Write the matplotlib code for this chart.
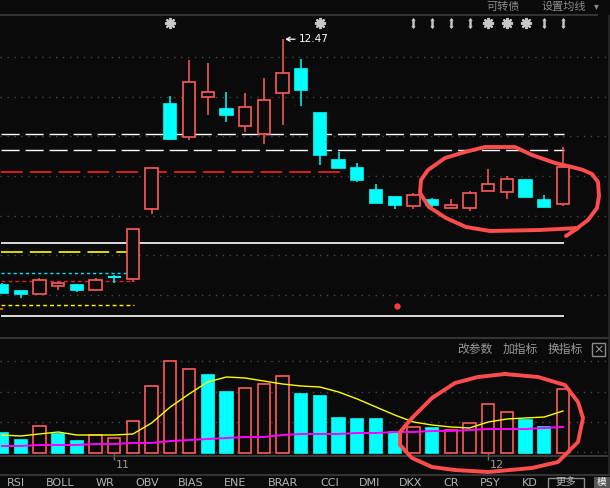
import numpy as np
import matplotlib
matplotlib.use('Agg')
import matplotlib.pyplot as plt
from matplotlib.patches import Rectangle

# daily candles (price), 31 sessions
opens  = [9.40, 9.32, 9.29, 9.39, 9.40, 9.34, 9.50, 9.47, 10.35, 11.66, 11.25, 11.75, 11.60, 11.39, 11.29, 11.80,
          12.10, 11.55, 10.96, 10.86, 10.59, 10.50, 10.39, 10.46, 10.36, 10.36, 10.57, 10.56, 10.71, 10.46, 10.41]
highs  = [9.42, 9.32, 9.49, 9.44, 9.41, 9.49, 9.52, 10.10, 10.86, 11.76, 12.21, 12.17, 11.81, 11.80, 11.99, 12.47,
          12.22, 11.55, 11.06, 10.92, 10.66, 10.50, 10.55, 10.49, 10.47, 10.57, 10.85, 10.76, 10.71, 10.52, 11.12]
lows   = [9.30, 9.24, 9.29, 9.34, 9.31, 9.32, 9.42, 9.44, 10.29, 11.21, 11.21, 11.52, 11.44, 11.31, 11.16, 11.40,
          11.64, 10.90, 10.86, 10.69, 10.42, 10.35, 10.35, 10.37, 10.36, 10.32, 10.57, 10.47, 10.50, 10.37, 10.39]
closes = [9.30, 9.29, 9.46, 9.42, 9.34, 9.46, 9.50, 10.10, 10.86, 11.22, 11.94, 11.81, 11.52, 11.62, 11.71, 12.05,
          11.84, 11.02, 10.86, 10.71, 10.42, 10.40, 10.52, 10.40, 10.40, 10.55, 10.66, 10.72, 10.50, 10.37, 10.87]

# volume (10k lots), colour flag vs previous close, and two moving averages
vols   = [2.0, 1.3, 2.7, 1.9, 1.2, 1.8, 1.5, 3.2, 6.7, 9.2, 8.4, 7.8, 6.1, 6.5, 6.9, 7.7,
          5.9, 5.7, 3.5, 3.4, 3.4, 2.1, 2.6, 2.5, 2.3, 3.0, 4.9, 4.1, 3.3, 2.6, 6.4]
vol_up = [0, 0, 1, 0, 0, 1, 1, 1, 1, 1, 1, 0, 0, 1, 1, 1,
          0, 0, 0, 0, 0, 0, 1, 0, 1, 1, 1, 1, 0, 0, 1]
vol_ma5 = [1.8, 1.7, 1.9, 2.1, 1.8, 1.8, 1.8, 1.9, 3.0, 4.6, 5.9, 7.1, 7.6, 7.5, 7.2, 6.9,
           6.7, 6.6, 6.1, 5.4, 4.6, 3.8, 3.1, 2.8, 2.6, 2.5, 3.1, 3.4, 3.5, 3.6, 4.2]
vol_ma_long = [0.7, 0.7, 0.8, 0.8, 0.8, 0.9, 0.9, 1.0, 1.0, 1.2, 1.3, 1.4, 1.5, 1.6, 1.6, 1.8,
               1.9, 1.9, 1.9, 2.0, 2.0, 2.1, 2.1, 2.2, 2.2, 2.3, 2.4, 2.4, 2.4, 2.5, 2.6]

# horizontal price levels
level_prices = [11.285, 11.085, 10.81, 9.9225, 9.81, 9.5475, 9.4475, 9.1475, 9.01]
level_ends   = [30.05, 30.05, 18.07, 30.05, 7.06, 7.06, 7.06, 7.06, 30.05]

star_days  = [9, 17, 26, 27, 28]
arrow_days = [22, 23, 24, 25, 29, 30]
month_days = [6, 26]
month_labels = ['11', '12']
high_label = '12.47'

tabs = ['RSI', 'BOLL', 'WR', 'OBV', 'BIAS', 'ENE', 'BRAR', 'CCI', 'DMI', 'DKX', 'CR', 'PSY', 'KD']

BG = '#0a0a0a'
RED = '#ff5a5a'
CYAN = '#00ffff'
GRID = '#4a4a4a'
CJK = ['Noto Sans CJK SC', 'DejaVu Sans']

W, H = 610, 488
fig = plt.figure(figsize=(W / 100, H / 100), dpi=100, facecolor=BG)


def box(x0, y0, x1, y1):
    return [x0 / W, 1 - y1 / H, (x1 - x0) / W, (y1 - y0) / H]


def px2i(px):
    return (px - 2) / 18.7


idx = np.arange(len(closes))

# ---- price panel
ax = fig.add_axes(box(0, 15, 608, 337))
ax.set_xlim(px2i(0), px2i(608))
ax.set_ylim(8.7475, 12.7725)
ax.axis('off')

for g in [12.2475, 11.7475, 11.26, 10.76, 10.26, 9.7725, 9.2725]:
    ax.axhline(g, color=GRID, lw=1, ls=(0, (1, 4)), zorder=0)

long_dash = (0, (13, 4.3))
level_styles = [('white', long_dash, 1.0), ('white', long_dash, 1.0), ('#ff2020', long_dash, 1.2),
                ('white', '-', 1.2), ('#ffff00', long_dash, 1.2), ('#00e5ff', (0, (2.2, 2.2)), 1.0),
                ('#e02020', (0, (2.8, 2.2)), 1.0), ('#ffff00', (0, (2.8, 2.2)), 1.0), ('white', '-', 1.2)]
for p, end, (c, ls, lw) in zip(level_prices, level_ends, level_styles):
    ax.hlines(p, px2i(1), end, colors=c, linestyles=ls, lw=lw, zorder=1)
ax.hlines(9.095, px2i(0), px2i(3), colors='#ff8000', lw=1.2)

for i, o, h, l, c in zip(idx, opens, highs, lows, closes):
    up = c > o
    col = RED if up else CYAN
    ax.vlines(i, l, h, colors=col, lw=1.1, zorder=2)
    ax.bar(i, abs(c - o), 0.66, min(o, c), facecolor=BG if up else CYAN,
           edgecolor=col, lw=1.2, zorder=3)
    if o == c:
        ax.hlines(o, i - 0.35, i + 0.35, colors=col, lw=1.4, zorder=3)

ax.plot(star_days, [12.67] * len(star_days), ls='none', marker=(8, 2, 0), ms=8, mew=1.4, color='#c8c8c8')
ax.plot(star_days, [12.67] * len(star_days), ls='none', marker='s', ms=4, color='#c8c8c8')
darrow = [(0, 1), (0.4, 0.5), (0.22, 0.5), (0.22, -0.5), (0.4, -0.5), (0, -1),
          (-0.4, -0.5), (-0.22, -0.5), (-0.22, 0.5), (-0.4, 0.5)]
ax.plot(arrow_days, [12.67] * len(arrow_days), ls='none', marker=darrow, ms=8, mew=0, color='#c8c8c8')

top_day = int(np.argmax(highs))
ax.annotate(high_label, xy=(top_day, highs[top_day]), xytext=(12, 0), textcoords='offset points',
            ha='left', va='center', color='white', fontsize=7.5,
            arrowprops=dict(arrowstyle='->,head_length=0.35,head_width=0.2', color='white', lw=0.9,
                            shrinkA=1, shrinkB=2))

# ---- volume panel
axv = fig.add_axes(box(0, 337, 608, 456))
axv.set_xlim(px2i(0), px2i(608))
axv.set_ylim(-0.3, 11.6)
axv.axis('off')
for g in [9.2, 6.1, 3.1, 0.1]:
    axv.axhline(g, color=GRID, lw=1, ls=(0, (1, 4)), zorder=0)
for i, v, u in zip(idx, vols, vol_up):
    axv.bar(i, v, 0.66, 0, facecolor=BG if u else CYAN, edgecolor=RED if u else CYAN, lw=1.2, zorder=2)
axv.plot(idx, vol_ma5, color='#ffff00', lw=1.0, zorder=3)
axv.plot(idx, vol_ma_long, color='#ff00ff', lw=1.4, zorder=3)
for d, lab in zip(month_days, month_labels):
    axv.vlines(d, -0.7, 0.0, colors='#777777', lw=1, clip_on=False)
    axv.text(d + 0.1, -1.2, lab, color='#9a9a9a', fontsize=8, ha='left', va='center', clip_on=False)

# ---- frame, header and footer (pixel overlay)
ov = fig.add_axes([0, 0, 1, 1], facecolor='none')
ov.set_xlim(0, W)
ov.set_ylim(H, 0)
ov.axis('off')
ov.hlines(15, 0, 598, colors='#333333', lw=1.5)
ov.hlines(337.5, 0, W, colors='#333333', lw=1.5)
ov.hlines(456, 0, 608, colors='#444444', lw=1.2)
ov.hlines(474.5, 0, W, colors='#333333', lw=1.5)
ov.vlines(608.5, 15, 474, colors='#2a2a2a', lw=1.2)

ov.text(503, 6.5, '可转债', color='#8c8c8c', fontsize=8, family=CJK, ha='center', va='center')
ov.text(541, 6.5, '设置均线', color='#8c8c8c', fontsize=8, family=CJK, ha='left', va='center')
ov.text(596, 6.5, '▾', color='#8c8c8c', fontsize=7, family=['DejaVu Sans'], ha='center', va='center')

for lab, x in zip(['改参数', '加指标', '换指标'], [475, 520, 565]):
    ov.text(x, 349, lab, color='#9a9a9a', fontsize=8.5, family=CJK, ha='center', va='center')
ov.add_patch(Rectangle((592, 343), 13, 13, fill=False, ec='#8a8a8a', lw=1))
ov.text(598.5, 349.5, '×', color='#9a9a9a', fontsize=9, ha='center', va='center')

tab_x = [16, 60, 105, 147, 191, 235, 283, 330, 370, 411, 451, 490, 530]
for lab, x in zip(tabs, tab_x):
    ov.text(x, 482.5, lab, color='#b4b4b4', fontsize=8, ha='center', va='center')
ov.add_patch(Rectangle((548, 477.5), 36, 14, fill=False, ec='#8a8a8a', lw=1))
ov.text(566, 482, '更多', color='#b4b4b4', fontsize=7.5, family=CJK, ha='center', va='center')
ov.add_patch(Rectangle((594, 477), 20, 14, fc='#555555', ec='none'))
ov.text(601.5, 482, '模', color='white', fontsize=7, family=CJK, ha='center', va='center')

# hand-drawn red annotation rings
ring1 = [(566, 236), (578, 228), (540, 230), (490, 231), (466, 227), (446, 218), (429, 207), (420, 193),
         (421, 180), (428, 170), (445, 158), (465, 152), (485, 147), (515, 147), (532, 155), (555, 163),
         (572, 167), (583, 170), (592, 174), (598, 182), (599, 196), (597, 208), (588, 220), (576, 229)]
ring2 = [(505, 374), (538, 377), (565, 385), (578, 402), (583, 418), (578, 442), (558, 462), (532, 468),
         (488, 472), (455, 470), (432, 467), (412, 458), (400, 445), (400, 432), (412, 418), (432, 398),
         (455, 383), (478, 377), (505, 374)]
for ring in (ring1, ring2):
    xs, ys = zip(*ring)
    ov.plot(xs, ys, color='#ff4d4d', lw=2.8, solid_capstyle='round', solid_joinstyle='round')
ov.plot([397], [306], ls='none', marker='o', ms=3.5, color='#ff3c3c')

fig.savefig('out.png', dpi=100, facecolor=BG)
